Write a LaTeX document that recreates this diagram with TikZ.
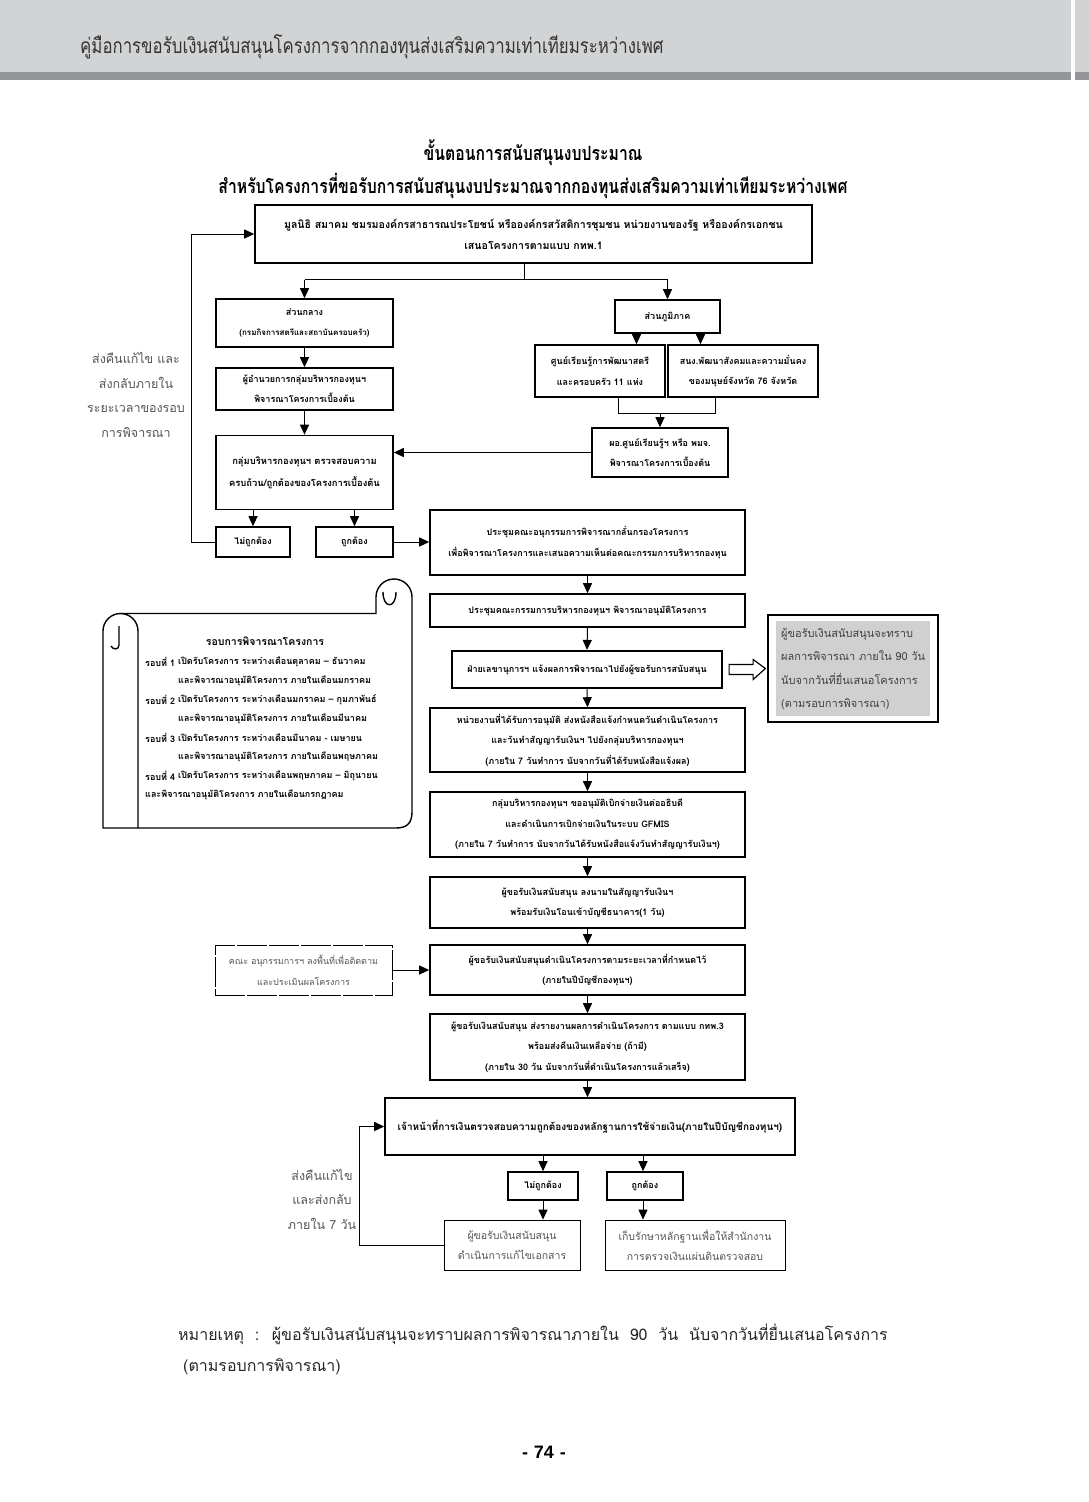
\documentclass[tikz,border=0pt]{standalone}
\usepackage{fontspec}
\setmainfont{Loma}[Script=Thai]
\newfontfamily\condfont{Loma}[Script=Thai,FakeStretch=0.8]
\newfontfamily\pgfont{Liberation Sans}
\usetikzlibrary{arrows.meta,calc}
\definecolor{hdlight}{HTML}{D1D3D4}
\definecolor{hddark}{HTML}{939598}
\definecolor{notegray}{HTML}{555555}
\definecolor{boxgray}{HTML}{D0D0D0}
\tikzset{
  box/.style={draw, line width=1.6pt, align=center, inner sep=2pt,
    font=\bfseries\fontsize{9}{20.5}\selectfont},
  thinbox/.style={draw, line width=0.8pt, align=center, inner sep=2pt,
    text=notegray, font=\fontsize{10.5}{20.5}\selectfont},
  arr/.style={-{Triangle[length=10pt,width=9pt]}, line width=1pt},
  ln/.style={line width=1pt},
  side/.style={text=notegray, font=\fontsize{12.5}{24.5}\selectfont, align=center},
  srow/.style={anchor=west, inner sep=0pt, font=\bfseries\fontsize{9}{10}\selectfont},
}
\begin{document}
\begin{tikzpicture}[x=1pt,y=-1pt]
\useasboundingbox (0,0) rectangle (1089,1502);
\fill[white] (0,0) rectangle (1089,1502);
% header
\fill[hdlight] (0,0) rectangle (1089,72);
\fill[hddark] (0,72) rectangle (1089,80);
\fill[white] (1071,0) rectangle (1075,80);
\node[anchor=west, inner sep=0pt, text=black!80, font=\condfont\fontsize{21}{24}\selectfont] (hd) at (80,47) {คู่มือการขอรับเงินสนับสนุนโครงการจากกองทุนส่งเสริมความเท่าเทียมระหว่างเพศ};
% titles
\node[font=\condfont\bfseries\fontsize{19.7}{22}\selectfont, inner sep=0pt] (t1) at (533,153) {ขั้นตอนการสนับสนุนงบประมาณ};
\node[font=\condfont\bfseries\fontsize{19.7}{22}\selectfont, inner sep=0pt] (t2) at (533,186) {สำหรับโครงการที่ขอรับการสนับสนุนงบประมาณจากกองทุนส่งเสริมความเท่าเทียมระหว่างเพศ};
% top box
\node[box, font=\bfseries\fontsize{10.6}{21}\selectfont, minimum width=557pt, minimum height=58pt] (b1) at (533.5,234) {มูลนิธิ สมาคม ชมรมองค์กรสาธารณประโยชน์ หรือองค์กรสวัสดิการชุมชน หน่วยงานของรัฐ หรือองค์กรเอกชน\\เสนอโครงการตามแบบ กทพ.1};
% left column
\node[box, minimum width=177pt, minimum height=48pt] (ck) at (304.5,323) {ส่วนกลาง\\{\fontsize{8}{10}\selectfont(กรมกิจการสตรีและสถาบันครอบครัว)}};
\node[box, minimum width=177pt, minimum height=42pt] (dir) at (304.5,389) {ผู้อำนวยการกลุ่มบริหารกองทุนฯ\\พิจารณาโครงการเบื้องต้น};
\node[box, font=\bfseries\fontsize{9.4}{22}\selectfont, minimum width=177pt, minimum height=74pt] (grp) at (304.5,472.5) {กลุ่มบริหารกองทุนฯ ตรวจสอบความ\\ครบถ้วน/ถูกต้องของโครงการเบื้องต้น};
\node[box, minimum width=74pt, minimum height=30pt] (no1) at (253,542) {ไม่ถูกต้อง};
\node[box, minimum width=77pt, minimum height=30pt] (yes1) at (354.5,542) {ถูกต้อง};
\node[side] (s1) at (136,395) {ส่งคืนแก้ไข และ\\ส่งกลับภายใน\\ระยะเวลาของรอบ\\การพิจารณา};
% right column
\node[box, minimum width=105pt, minimum height=33pt] (rg) at (667.5,316.5) {ส่วนภูมิภาค};
\node[box, minimum width=130pt, minimum height=52pt] (ct) at (600,371) {ศูนย์เรียนรู้การพัฒนาสตรี\\และครอบครัว 11 แห่ง};
\node[box, minimum width=150pt, minimum height=52pt] (st) at (743,371) {สนง.พัฒนาสังคมและความมั่นคง\\ของมนุษย์จังหวัด 76 จังหวัด};
\node[box, minimum width=136pt, minimum height=49pt] (pd) at (660,452.5) {ผอ.ศูนย์เรียนรู้ฯ หรือ พมจ.\\พิจารณาโครงการเบื้องต้น};
% middle column
\node[box, minimum width=315pt, minimum height=65pt] (m1) at (587.5,542.5) {ประชุมคณะอนุกรรมการพิจารณากลั่นกรองโครงการ\\เพื่อพิจารณาโครงการและเสนอความเห็นต่อคณะกรรมการบริหารกองทุน};
\node[box, minimum width=315pt, minimum height=33pt] (m2) at (587.5,610.5) {ประชุมคณะกรรมการบริหารกองทุนฯ พิจารณาอนุมัติโครงการ};
\node[box, line width=2.2pt, minimum width=270pt, minimum height=37pt] (m3) at (587,669.5) {ฝ่ายเลขานุการฯ แจ้งผลการพิจารณาไปยังผู้ขอรับการสนับสนุน};
\node[box, minimum width=315pt, minimum height=64pt] (m4) at (587.5,740) {หน่วยงานที่ได้รับการอนุมัติ ส่งหนังสือแจ้งกำหนดวันดำเนินโครงการ\\และวันทำสัญญารับเงินฯ ไปยังกลุ่มบริหารกองทุนฯ\\(ภายใน 7 วันทำการ นับจากวันที่ได้รับหนังสือแจ้งผล)};
\node[box, minimum width=315pt, minimum height=65pt] (m5) at (587.5,824.5) {กลุ่มบริหารกองทุนฯ ขออนุมัติเบิกจ่ายเงินต่ออธิบดี\\และดำเนินการเบิกจ่ายเงินในระบบ GFMIS\\(ภายใน 7 วันทำการ นับจากวันได้รับหนังสือแจ้งวันทำสัญญารับเงินฯ)};
\node[box, minimum width=315pt, minimum height=51pt] (m6) at (587.5,902.5) {ผู้ขอรับเงินสนับสนุน ลงนามในสัญญารับเงินฯ\\พร้อมรับเงินโอนเข้าบัญชีธนาคาร(1 วัน)};
\node[box, minimum width=315pt, minimum height=50pt] (m7) at (587.5,970) {ผู้ขอรับเงินสนับสนุนดำเนินโครงการตามระยะเวลาที่กำหนดไว้\\(ภายในปีบัญชีกองทุนฯ)};
\node[thinbox, font=\fontsize{9}{20.5}\selectfont, line width=1pt, dash pattern=on 30pt off 2pt, minimum width=177pt, minimum height=50pt] (sb) at (303.5,970) {คณะ อนุกรรมการฯ ลงพื้นที่เพื่อติดตาม\\และประเมินผลโครงการ};
\node[box, minimum width=315pt, minimum height=66pt] (m8) at (587.5,1047) {ผู้ขอรับเงินสนับสนุน ส่งรายงานผลการดำเนินโครงการ ตามแบบ กทพ.3\\พร้อมส่งคืนเงินเหลือจ่าย (ถ้ามี)\\(ภายใน 30 วัน นับจากวันที่ดำเนินโครงการแล้วเสร็จ)};
\node[box, font=\bfseries\fontsize{10}{20}\selectfont, minimum width=410pt, minimum height=57pt] (m9) at (590,1126.5) {เจ้าหน้าที่การเงินตรวจสอบความถูกต้องของหลักฐานการใช้จ่ายเงิน(ภายในปีบัญชีกองทุนฯ)};
\node[box, minimum width=70pt, minimum height=28pt] (no2) at (543,1186) {ไม่ถูกต้อง};
\node[box, minimum width=76pt, minimum height=28pt] (yes2) at (645,1186) {ถูกต้อง};
\node[thinbox, minimum width=136pt, minimum height=50pt] (bl) at (512,1245) {ผู้ขอรับเงินสนับสนุน\\ดำเนินการแก้ไขเอกสาร};
\node[thinbox, minimum width=180pt, minimum height=50pt] (br) at (695,1245) {เก็บรักษาหลักฐานเพื่อให้สำนักงาน\\การตรวจเงินแผ่นดินตรวจสอบ};
\node[side] (s2) at (322,1199) {ส่งคืนแก้ไข\\และส่งกลับ\\ภายใน 7 วัน};
% gray info box
\node[draw, line width=1.2pt, fill=white, minimum width=170pt, minimum height=107pt, inner sep=0pt] (gb) at (853,668.5) {};
\node[fill=boxgray, minimum width=154pt, minimum height=95pt, inner sep=0pt] (gi) at (gb.center) {};
\node[anchor=north west, align=left, inner sep=0pt, text=black!75, font=\fontsize{11}{23.5}\selectfont] (gt) at (781,628) {ผู้ขอรับเงินสนับสนุนจะทราบ\\ผลการพิจารณา ภายใน 90 วัน\\นับจากวันที่ยื่นเสนอโครงการ\\(ตามรอบการพิจารณา)};
% scroll
\draw[line width=1.4pt, fill=white]
  (103,828) -- (103,631) arc[start angle=180, end angle=270, radius=17.5]
  -- (376,613.5) -- (376,597) arc[start angle=180, end angle=360, radius=18] -- (412,812)
  .. controls (412,824) and (406,828) .. (396,828) -- cycle;
\draw[line width=1.4pt] (120.5,613.5) arc[start angle=270, end angle=360, radius=17.5] -- (138,828);
\draw[line width=1.4pt] (119,626) -- (119,645) .. controls (119,650) and (113,650) .. (111,646);
\draw[line width=1.4pt] (383,592) .. controls (383,609) and (396,609) .. (396,592);
\node[font=\bfseries\fontsize{10.5}{12}\selectfont, inner sep=0pt] (sct) at (265,641) {รอบการพิจารณาโครงการ};
\node[srow] (r1) at (145,662) {รอบที่ 1};
\node[srow] (r1a) at (178,662) {เปิดรับโครงการ ระหว่างเดือนตุลาคม – ธันวาคม};
\node[srow] (r1b) at (178,681) {และพิจารณาอนุมัติโครงการ ภายในเดือนมกราคม};
\node[srow] (r2) at (145,700) {รอบที่ 2};
\node[srow] (r2a) at (178,700) {เปิดรับโครงการ ระหว่างเดือนมกราคม – กุมภาพันธ์};
\node[srow] (r2b) at (178,719) {และพิจารณาอนุมัติโครงการ ภายในเดือนมีนาคม};
\node[srow] (r3) at (145,738) {รอบที่ 3};
\node[srow] (r3a) at (178,738) {เปิดรับโครงการ ระหว่างเดือนมีนาคม - เมษายน};
\node[srow] (r3b) at (178,757) {และพิจารณาอนุมัติโครงการ ภายในเดือนพฤษภาคม};
\node[srow] (r4) at (145,776) {รอบที่ 4};
\node[srow] (r4a) at (178,776) {เปิดรับโครงการ ระหว่างเดือนพฤษภาคม – มิถุนายน};
\node[srow] (r4b) at (145,795) {และพิจารณาอนุมัติโครงการ ภายในเดือนกรกฎาคม};
% connectors
\draw[line width=1.6pt] ([xshift=-9pt]b1.south) -- ++(0,16) coordinate (sp);
\draw[ln] (ck.north |- sp) -- (rg.north |- sp);
\draw[arr] (ck.north |- sp) -- (ck.north);
\draw[arr] (rg.north |- sp) -- (rg.north);
\draw[arr] (ck.south) -- (dir.north);
\draw[arr] (dir.south) -- (grp.north);
\draw[arr] (no1.north |- grp.south) -- (no1.north);
\draw[arr] (yes1.north |- grp.south) -- (yes1.north);
\draw[arr] (no1.west) -- ++(-24,0) |- (b1.west);
\draw[arr] (yes1.east) -- (yes1.east -| m1.west);
\draw[arr] ([xshift=-31pt]rg.south) -- ([xshift=-31pt]rg.south |- ct.north);
\draw[arr] ([xshift=33pt]rg.south) -- ([xshift=33pt]rg.south |- st.north);
\draw[ln] ([xshift=18pt]ct.south) -- ++(0,16) coordinate (jl) -| ([xshift=-28pt]st.south);
\coordinate (jn) at (pd.north |- jl);
\draw[arr] (jn) -- (pd.north);
\draw[arr] (pd.west) -- (pd.west -| grp.east);
\draw[arr] (m1.south) -- (m2.north);
\draw[arr] (m2.south) -- (m3.north);
\draw[arr] (m3.south) -- (m4.north);
\draw[arr] (m4.south) -- (m5.north);
\draw[arr] (m5.south) -- (m6.north);
\draw[arr] (m6.south) -- (m7.north);
\draw[arr] (m7.south) -- (m8.north);
\draw[arr] (m8.south) -- (m8.south |- m9.north);
\draw[arr] (sb.east) -- (m7.west);
\draw[arr] (no2.north |- m9.south) -- (no2.north);
\draw[arr] ([xshift=-2pt]yes2.north |- m9.south) -- ([xshift=-2pt]yes2.north);
\draw[arr] (no2.south) -- (no2.south |- bl.north);
\draw[arr] ([xshift=-2pt]yes2.south) -- ([xshift=-2pt]yes2.south |- br.north);
\draw[arr] (bl.west) -- ++(-84,0) |- (m9.west);
% hollow arrow m3 -> gray box
\draw[line width=1.2pt, fill=white] ($(m3.east)+(6,-5)$) -- ++(24,0) -- ++(0,-5) -- ($(gb.west)+(-2,0)$) -- ($(m3.east)+(30,10)$) -- ++(0,-5) -- ++(-24,0) -- cycle;
% note
\node[anchor=west, inner sep=0pt, text=black!85, font=\fontsize{16}{18}\selectfont] (nt1) at (178,1334) {หมายเหตุ \ : \ ผู้ขอรับเงินสนับสนุนจะทราบผลการพิจารณาภายใน \ 90 \ วัน \ นับจากวันที่ยื่นเสนอโครงการ};
\node[anchor=west, inner sep=0pt, text=black!85, font=\fontsize{16}{18}\selectfont] (nt2) at (183,1367) {(ตามรอบการพิจารณา)};
\node[font=\pgfont\bfseries\fontsize{18}{20}\selectfont, inner sep=0pt] (pg) at (544,1452) {-\,\,74\,\,-};
\end{tikzpicture}
\end{document}
